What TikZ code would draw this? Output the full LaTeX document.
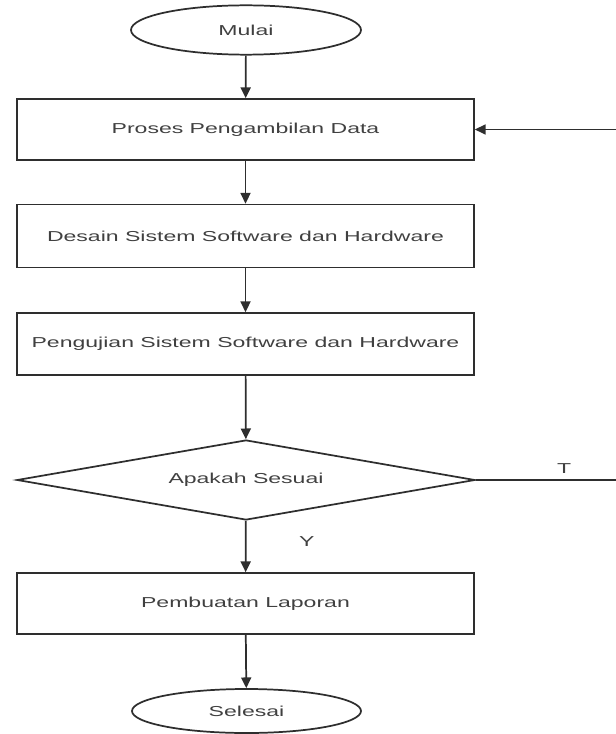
\documentclass[tikz,border=0pt]{standalone}
\usepackage{fontspec}
\setmainfont{Liberation Sans}
\usetikzlibrary{shapes.geometric,arrows.meta}
\definecolor{linec}{HTML}{2E2E2E}
\definecolor{txtc}{HTML}{404040}
\newcommand{\stretchtxt}[1]{\scalebox{1.6}[1]{#1}}
\tikzset{
  every node/.style={font=\fontsize{10.8pt}{12pt}\selectfont, text=txtc},
  procbox/.style={draw=linec, line width=1.3pt, rectangle, minimum width=342.75pt, inner sep=0pt},
  termin/.style={draw=linec, line width=1.3pt, ellipse, inner sep=0pt},
  decis/.style={draw=linec, line width=1.3pt, diamond, aspect=5.7, minimum width=343.5pt, minimum height=60pt, inner sep=0pt},
  flow/.style={draw=linec, line width=1.3pt, -{Triangle[length=8pt,width=7.5pt]}},
  plain/.style={draw=linec, line width=1.3pt}
}
\begin{document}
\begin{tikzpicture}[x=0.75pt,y=-0.75pt]
\useasboundingbox (0,0) rectangle (616,734);
\node[termin, minimum width=172.5pt, minimum height=37pt] (mulai) at (246,30) {\stretchtxt{Mulai}};
\node[procbox, minimum height=45.75pt] (p1) at (245.5,129.5) {\stretchtxt{Proses Pengambilan Data}};
\node[procbox, minimum height=47.25pt] (p2) at (245.5,236) {\stretchtxt{Desain Sistem Software dan Hardware}};
\node[procbox, minimum height=46.5pt] (p3) at (245.5,344) {\stretchtxt{Pengujian Sistem Software dan Hardware}};
\node[decis] (d) at (246,480) {\stretchtxt{Apakah Sesuai}};
\node[procbox, minimum height=45.75pt] (p4) at (245.5,603.5) {\stretchtxt{Pembuatan Laporan}};
\node[termin, minimum width=171.75pt, minimum height=33pt] (selesai) at (246.5,711) {\stretchtxt{Selesai}};
\coordinate (tend) at (616,480);
\coordinate (fbstart) at (616,129.5);
\draw[flow] (mulai) -- (p1);
\draw[flow] (p1) -- (p2);
\draw[flow] (p2) -- (p3);
\draw[flow] (p3) -- (d);
\draw[flow] (d) -- node[pos=0.4, right=36pt] (ylab) {\stretchtxt{Y}} (p4);
\draw[flow] (p4) -- (selesai);
\draw[plain] (d.east) -- node[pos=0.63, above=1pt] (tlab) {\stretchtxt{T}} (tend);
\draw[flow] (fbstart) -- (p1.east);
\end{tikzpicture}
\end{document}
